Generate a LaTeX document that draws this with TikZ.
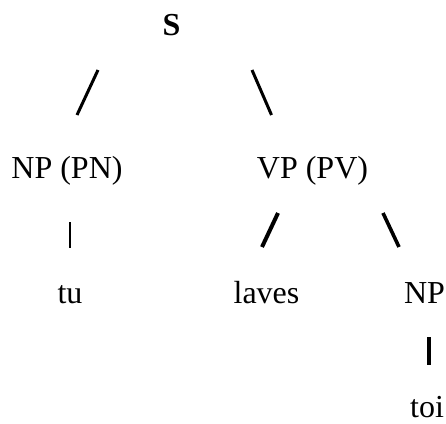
\documentclass[tikz,border=0pt]{standalone}
\usepackage{fontspec}
\setmainfont{Liberation Serif}
\newfontfamily\headfont{Liberation Serif Bold}
\begin{document}
\begin{tikzpicture}[x=1pt,y=1pt,
  lbl/.style={anchor=base,inner sep=0pt,font=\fontsize{32}{38}\selectfont},
  headlbl/.style={anchor=base,inner sep=0pt,font=\headfont\fontsize{32}{38}\selectfont},
  stroke/.style={line width=#1,line cap=butt},
  stroke/.default=3pt]
\useasboundingbox (0,0) rectangle (446,-423);
% labels
\node[headlbl] (s) at (171.5,-35) {S};
\node[lbl] (np1) at (67,-178) {NP (PN)};
\node[lbl] (vp) at (312.5,-178) {VP (PV)};
\node[lbl] (tu) at (70,-303) {tu};
\node[lbl] (laves) at (266.5,-303) {laves};
\node[lbl] (np2) at (424.5,-303) {NP};
\node[lbl] (toi) at (427,-417) {toi};
% branch marks
\coordinate (sL1) at (77,-115);  \coordinate (sL2) at (98,-70);
\coordinate (sR1) at (252,-70);  \coordinate (sR2) at (271.5,-115);
\coordinate (n1a) at (70,-222);  \coordinate (n1b) at (70,-248);
\coordinate (vL1) at (262,-247); \coordinate (vL2) at (278,-213);
\coordinate (vR1) at (383,-213); \coordinate (vR2) at (399,-247);
\coordinate (n2a) at (428.5,-337); \coordinate (n2b) at (428.5,-365);
\draw[stroke] (sL1) -- (sL2);
\draw[stroke] (sR1) -- (sR2);
\draw[stroke=2.6pt] (n1a) -- (n1b);
\draw[stroke=4pt] (vL1) -- (vL2);
\draw[stroke=3.6pt] (vR1) -- (vR2);
\draw[stroke=4pt] (n2a) -- (n2b);
\end{tikzpicture}
\end{document}
